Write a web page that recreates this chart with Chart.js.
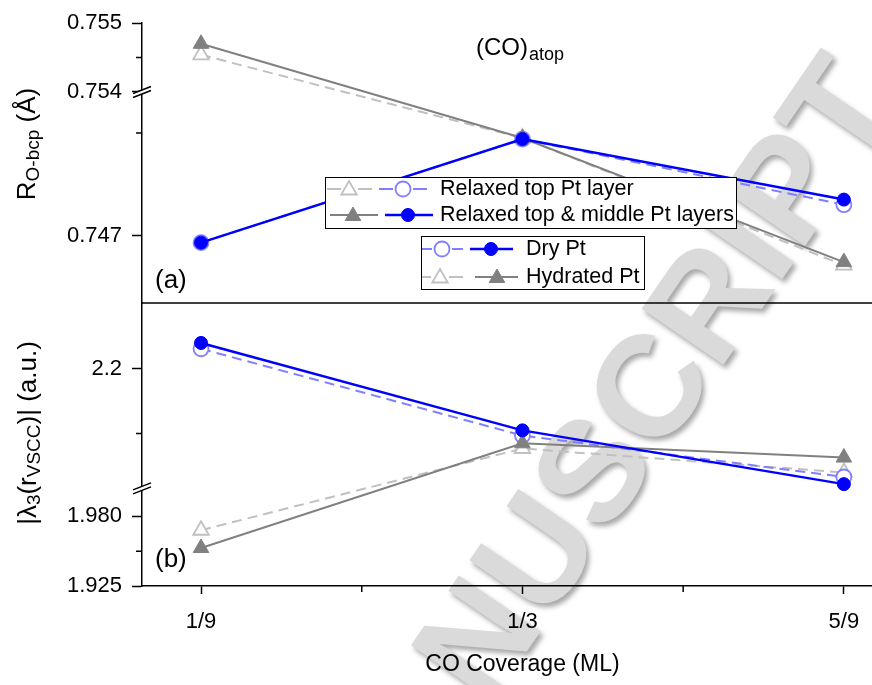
<!DOCTYPE html>
<html>
<head>
<meta charset="utf-8">
<script src="https://cdn.jsdelivr.net/npm/chart.js@4.4.1/dist/chart.umd.min.js"></script>
<style>
  html, body { margin: 0; padding: 0; background: #fff; }
</style>
</head>
<body>
<canvas id="myChart" width="872" height="685"></canvas>
<script>
//----DATA--------------------------------
const coverage = [1/9, 1/3, 5/9];
const coverageLabels = ['1/9', '1/3', '5/9'];
const coverageMinor = [2/9, 4/9];

// panel (a): R O-bcp (Å)
const rDryTop = [0.74693, 0.74794, 0.74730];   // open circles, relaxed top layer
const rDryAll = [0.74693, 0.74794, 0.74735];   // filled circles, top & middle
const rHydTop = [0.75454, 0.74795, 0.74671];   // open triangles
const rHydAll = [0.75470, 0.74795, 0.74674];   // filled triangles
const rTicks = [0.747, 0.754, 0.755];
const rTickLabels = ['0.747', '0.754', '0.755'];
const rMinor = [0.748, 0.7545];

// panel (b): |lambda3(rVSCC)| (a.u.)
const lDryTop = [2.231, 2.097, 2.033];
const lDryAll = [2.240, 2.105, 2.022];
const lHydTop = [1.969, 2.077, 2.040];
const lHydAll = [1.955, 2.085, 2.063];
const lTicks = [1.925, 1.980, 2.2];
const lTickLabels = ['1.925', '1.980', '2.2'];
const lMinor = [1.9525, 2.1];

// broken axis ranges (lower part / upper part), "at" = where the break sits along the axis
const BREAKS = {
  ya: {lower: [0.74634, 0.7484], upper: [0.754, 0.755], at: 0.7544},
  yb: {lower: [1.925, 2.002], upper: [2.0154, 2.3015], at: 0.345}
};

//----BROKEN SCALE------------------------
class BrokenScale extends Chart.LinearScale {
  determineDataLimits() {
    const b = BREAKS[this.id];
    this.min = b.lower[0];
    this.max = b.upper[1];
  }
  _dec(v) {
    const b = BREAKS[this.id];
    if (v <= b.lower[1]) return (v - b.lower[0]) / (b.lower[1] - b.lower[0]) * b.at;
    if (v >= b.upper[0]) return b.at + (v - b.upper[0]) / (b.upper[1] - b.upper[0]) * (1 - b.at);
    return b.at;
  }
  getPixelForValue(v) {
    if (v === null || v === undefined) return NaN;
    return this.getPixelForDecimal(this._dec(v));
  }
  getValueForPixel(p) {
    const b = BREAKS[this.id];
    const d = this.getDecimalForPixel(p);
    if (d <= b.at) return b.lower[0] + d / b.at * (b.lower[1] - b.lower[0]);
    return b.upper[0] + (d - b.at) / (1 - b.at) * (b.upper[1] - b.upper[0]);
  }
}
BrokenScale.id = 'broken';
BrokenScale.defaults = Chart.LinearScale.defaults;
Chart.register(BrokenScale);

//----STYLES------------------------------
const FONT = 'Liberation Sans, Arial, sans-serif';
const BLUE = '#0000ff', LAV = '#8080ff', GRAY = '#808080', LGRAY = '#c0c0c0';

const stDryOpen = {borderColor: LAV, borderWidth: 2, borderDash: [10, 6], pointStyle: 'circle', pointRadius: 7.5,
  pointBorderWidth: 1.8, pointBorderColor: LAV, pointBackgroundColor: '#fff'};
const stDryFull = {borderColor: BLUE, borderWidth: 2.5, pointStyle: 'circle', pointRadius: 6.5,
  pointBorderWidth: 1, pointBorderColor: BLUE, pointBackgroundColor: BLUE};
const stHydOpen = {borderColor: LGRAY, borderWidth: 2, borderDash: [10, 6], pointStyle: 'triangle', pointRadius: 9,
  pointBorderWidth: 1.8, pointBorderColor: LGRAY, pointBackgroundColor: '#fff'};
const stHydFull = {borderColor: GRAY, borderWidth: 2, pointStyle: 'triangle', pointRadius: 9,
  pointBorderWidth: 1, pointBorderColor: GRAY, pointBackgroundColor: GRAY};

function series(label, ys, axis, style, order) {
  return Object.assign({
    label, order, yAxisID: axis, xAxisID: 'x', fill: false, tension: 0,
    data: coverage.map((x, i) => ({x, y: ys[i]}))
  }, style);
}

const data = {
  datasets: [
    series('a dry top', rDryTop, 'ya', stDryOpen, 3),
    series('a hyd top', rHydTop, 'ya', stHydOpen, 4),
    series('a hyd all', rHydAll, 'ya', stHydFull, 2),
    series('a dry all', rDryAll, 'ya', stDryFull, 1),
    series('b hyd top', lHydTop, 'yb', stHydOpen, 4),
    series('b dry top', lDryTop, 'yb', stDryOpen, 3),
    series('b hyd all', lHydAll, 'yb', stHydFull, 2),
    series('b dry all', lDryAll, 'yb', stDryFull, 1)
  ]
};

//----HELPERS-----------------------------
function richText(ctx, parts, x, y, angle) {
  ctx.save();
  ctx.translate(x, y);
  ctx.rotate(angle);
  ctx.textBaseline = 'alphabetic';
  ctx.textAlign = 'left';
  let w = 0;
  parts.forEach(p => { ctx.font = p[1] + 'px ' + FONT; w += ctx.measureText(p[0]).width; });
  let cx = -w / 2;
  parts.forEach(p => {
    ctx.font = p[1] + 'px ' + FONT;
    ctx.fillText(p[0], cx, p[2]);
    cx += ctx.measureText(p[0]).width;
  });
  ctx.restore();
}
function seg(ctx, x1, x2, y, color, w) {
  ctx.save();
  ctx.strokeStyle = color; ctx.lineWidth = w;
  ctx.beginPath(); ctx.moveTo(x1, y); ctx.lineTo(x2, y); ctx.stroke();
  ctx.restore();
}
function mark(ctx, st, x, y) {
  ctx.save();
  ctx.fillStyle = st.pointBackgroundColor;
  ctx.strokeStyle = st.pointBorderColor;
  ctx.lineWidth = st.pointBorderWidth;
  Chart.helpers.drawPoint(ctx, {pointStyle: st.pointStyle, radius: st.pointRadius, borderWidth: st.pointBorderWidth, rotation: 0}, x, y);
  ctx.restore();
}
function breakMark(ctx, x, y) {
  ctx.save();
  ctx.fillStyle = '#fff';
  ctx.beginPath();
  ctx.moveTo(x - 9, y + 1.5); ctx.lineTo(x + 9, y - 5.5); ctx.lineTo(x + 9, y - 1.5); ctx.lineTo(x - 9, y + 5.5);
  ctx.closePath(); ctx.fill();
  ctx.strokeStyle = '#000'; ctx.lineWidth = 1.5;
  ctx.beginPath();
  ctx.moveTo(x - 9, y + 1.5); ctx.lineTo(x + 9, y - 5.5);
  ctx.moveTo(x - 9, y + 5.5); ctx.lineTo(x + 9, y - 1.5);
  ctx.stroke();
  ctx.restore();
}

//----PLUGINS-----------------------------
const watermark = {
  id: 'watermark',
  beforeDraw(chart) {
    const ctx = chart.ctx;
    ctx.save();
    ctx.translate(484, 644);
    ctx.rotate(-0.97);
    ctx.font = 'bold 144px ' + FONT;
    ctx.textBaseline = 'middle';
    const pre = ctx.measureText('MA').width + ctx.measureText('N').width / 2;
    ctx.shadowColor = 'rgba(110,110,110,0.6)';
    ctx.shadowOffsetX = 3; ctx.shadowOffsetY = 4; ctx.shadowBlur = 5;
    ctx.fillStyle = '#dadada';
    ctx.fillText('MANUSCRIPT', -pre, 0);
    ctx.restore();
  }
};

const extras = {
  id: 'extras',
  afterDraw(chart) {
    const ctx = chart.ctx;
    const {ya, yb, x} = chart.scales;
    const {left, right} = chart.chartArea;

    // panel separator
    ctx.save();
    ctx.strokeStyle = '#000'; ctx.lineWidth = 1.5;
    ctx.beginPath(); ctx.moveTo(left, ya.bottom); ctx.lineTo(right, ya.bottom); ctx.stroke();

    // minor ticks
    ctx.beginPath();
    rMinor.forEach(v => { const p = ya.getPixelForValue(v); ctx.moveTo(left - 6, p); ctx.lineTo(left, p); });
    lMinor.forEach(v => { const p = yb.getPixelForValue(v); ctx.moveTo(left - 6, p); ctx.lineTo(left, p); });
    coverageMinor.forEach(v => { const p = x.getPixelForValue(v); ctx.moveTo(p, x.top); ctx.lineTo(p, x.top + 6); });
    ctx.stroke();
    ctx.restore();

    // axis breaks
    breakMark(ctx, left, ya.getPixelForDecimal(BREAKS.ya.at));
    breakMark(ctx, left, yb.getPixelForDecimal(BREAKS.yb.at));

    // texts
    ctx.save();
    ctx.fillStyle = '#000';
    richText(ctx, [['R', 26, 0], ['O-bcp', 19, 4], [' (\u00C5)', 26, 0]], 35, 144, -Math.PI / 2);
    richText(ctx, [['|\u03BB', 26, 0], ['3', 19, 4], ['(r', 26, 0], ['VSCC', 19, 4], [')| (a.u.)', 26, 0]], 36, 433, -Math.PI / 2);
    ctx.font = '23px ' + FONT;
    ctx.textBaseline = 'middle'; ctx.textAlign = 'center';
    ctx.fillText('CO Coverage (ML)', x.getPixelForValue(coverage[1]), 665);
    ctx.font = '26px ' + FONT;
    ctx.textAlign = 'left';
    ctx.fillText('(a)', 155, 281);
    ctx.fillText('(b)', 155, 560);
    ctx.textBaseline = 'alphabetic';
    ctx.font = '24px ' + FONT;
    ctx.fillText('(CO)', 476, 55);
    const wCO = ctx.measureText('(CO)').width;
    ctx.font = '18px ' + FONT;
    ctx.fillText('atop', 476 + wCO + 1, 60);
    ctx.restore();

    // legend boxes
    ctx.save();
    ctx.fillStyle = '#fff'; ctx.strokeStyle = '#000'; ctx.lineWidth = 1;
    ctx.fillRect(325, 177, 411, 51); ctx.strokeRect(325.5, 177.5, 411, 51);
    ctx.fillRect(421, 236, 223, 53); ctx.strokeRect(421.5, 236.5, 223, 53);
    ctx.restore();

    seg(ctx, 327, 341, 189, LGRAY, 2); seg(ctx, 358, 372, 189, LGRAY, 2); mark(ctx, stHydOpen, 349, 190);
    seg(ctx, 379, 393, 189, LAV, 2); seg(ctx, 413, 427, 189, LAV, 2); mark(ctx, stDryOpen, 403, 189);
    seg(ctx, 330, 378, 215, GRAY, 2); mark(ctx, stHydFull, 353, 216);
    seg(ctx, 385, 433, 215, BLUE, 2.5); mark(ctx, stDryFull, 408, 215);

    seg(ctx, 422, 432, 249, LAV, 2); seg(ctx, 452, 463, 249, LAV, 2); mark(ctx, stDryOpen, 442, 249);
    seg(ctx, 470, 513, 249, BLUE, 2.5); mark(ctx, stDryFull, 491, 249);
    seg(ctx, 422, 431, 277, LGRAY, 2); seg(ctx, 449, 463, 277, LGRAY, 2); mark(ctx, stHydOpen, 440, 278);
    seg(ctx, 475, 518, 277, GRAY, 2); mark(ctx, stHydFull, 497, 278);

    ctx.save();
    ctx.fillStyle = '#000';
    ctx.font = '21.5px ' + FONT;
    ctx.textBaseline = 'middle'; ctx.textAlign = 'left';
    ctx.fillText('Relaxed top Pt layer', 440, 189);
    ctx.fillText('Relaxed top & middle Pt layers', 440, 215);
    ctx.fillText('Dry Pt', 526, 249);
    ctx.fillText('Hydrated Pt', 526, 277);
    ctx.restore();
  }
};

//----CONFIG------------------------------
const tickFont = {family: FONT, size: 22};

function yAxis(ticks, labels, weight, stackWeight) {
  return {
    type: 'broken', position: 'left', stack: 'panels', stackWeight, weight, bounds: 'data',
    afterBuildTicks: s => { s.ticks = ticks.map(v => ({value: v})); },
    afterFit: s => { s.width = 142; },
    ticks: {font: tickFont, color: '#000', padding: 10, autoSkip: false, callback: (v, i) => labels[i]},
    grid: {drawOnChartArea: false, tickLength: 10, tickColor: '#000', tickWidth: 1.5},
    border: {color: '#000', width: 1.5}
  };
}

const config = {
  type: 'line',
  data,
  options: {
    responsive: false,
    animation: false,
    events: [],
    layout: {autoPadding: false, padding: {top: 21, left: 0, right: 0, bottom: 0}},
    scales: {
      x: {
        type: 'linear', position: 'bottom', min: 0.0703, max: 0.575,
        afterBuildTicks: s => { s.ticks = coverage.map(v => ({value: v})); },
        afterFit: s => { s.height = 99; s.paddingLeft = 0; s.paddingRight = 0; },
        ticks: {font: tickFont, color: '#000', padding: 15, maxRotation: 0, autoSkip: false,
          callback: (v, i) => coverageLabels[i]},
        grid: {drawOnChartArea: false, tickLength: 8, tickColor: '#000', tickWidth: 1.5},
        border: {color: '#000', width: 1.5}
      },
      ya: yAxis(rTicks, rTickLabels, 2, 281),
      yb: yAxis(lTicks, lTickLabels, 1, 284)
    },
    plugins: {
      legend: {display: false},
      tooltip: {enabled: false}
    }
  },
  plugins: [watermark, extras]
};

const myChart = new Chart(document.getElementById('myChart'), config);
</script>
</body>
</html>
